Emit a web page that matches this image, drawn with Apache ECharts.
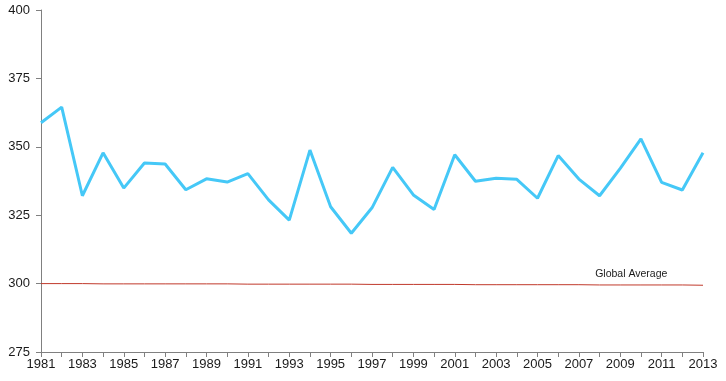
<!DOCTYPE html>
<html>
<head>
<meta charset="utf-8">
<script src="https://cdn.jsdelivr.net/npm/echarts@6/dist/echarts.min.js"></script>
<style>html,body{margin:0;padding:0;background:#fff;}#c{width:726px;height:381px;}</style>
</head>
<body>
<div id="c"></div>
<script>
const years = ['1981','1982','1983','1984','1985','1986','1987','1988','1989','1990','1991','1992','1993','1994','1995','1996','1997','1998','1999','2000','2001','2002','2003','2004','2005','2006','2007','2008','2009','2010','2011','2012','2013'];
const values = [358.8,364.5,332.1,347.8,334.9,344.1,343.7,334.3,338.3,337.1,340.2,330.6,323.2,348.8,328.1,318.4,327.7,342.5,332.4,327.1,347.1,337.4,338.5,338.1,331.2,346.8,338.2,332.1,342.1,352.9,337.0,334.2,347.8];
const globalAvg = [300.0,300.0,300.0,299.9,299.9,299.9,299.9,299.9,299.9,299.9,299.8,299.8,299.8,299.8,299.8,299.8,299.7,299.7,299.7,299.7,299.7,299.6,299.6,299.6,299.6,299.6,299.6,299.5,299.5,299.5,299.5,299.5,299.4];
const avgLabel = 'Global Average';
const yTicks = {min: 275, max: 400, interval: 25};

const chart = echarts.init(document.getElementById('c'));
chart.setOption({
  animation: false,
  grid: {left: 41, right: 23, top: 10, bottom: 29, containLabel: false},
  xAxis: {
    type: 'category',
    data: years,
    boundaryGap: false,
    axisLine: {lineStyle: {color: '#808080', width: 1}},
    axisTick: {show: true, interval: 0, length: 5, lineStyle: {color: '#808080'}},
    axisLabel: {interval: 1, color: '#1a1a1a', fontSize: 13, fontFamily: 'Liberation Sans, Arial', margin: 6}
  },
  yAxis: {
    type: 'value',
    min: yTicks.min, max: yTicks.max, interval: yTicks.interval,
    splitLine: {show: false},
    axisLine: {show: true, lineStyle: {color: '#808080', width: 1}},
    axisTick: {show: true, length: 5, lineStyle: {color: '#808080'}},
    axisLabel: {color: '#1a1a1a', fontSize: 13, fontFamily: 'Liberation Sans, Arial', margin: 11}
  },
  series: [
    {
      type: 'line',
      data: globalAvg,
      symbol: 'none',
      lineStyle: {color: '#c0392b', width: 1},
      z: 1,
      markPoint: {
        symbol: 'circle', symbolSize: 0,
        data: [{coord: ['2009', 300], value: avgLabel}],
        label: {show: true, formatter: avgLabel, position: 'inside', offset: [11, -9], color: '#1a1a1a', fontSize: 10.5, fontFamily: 'Liberation Sans, Arial'}
      }
    },
    {
      type: 'line',
      data: values,
      symbol: 'none',
      lineStyle: {color: '#45c8f7', width: 3},
      z: 2
    }
  ]
});
</script>
</body>
</html>
